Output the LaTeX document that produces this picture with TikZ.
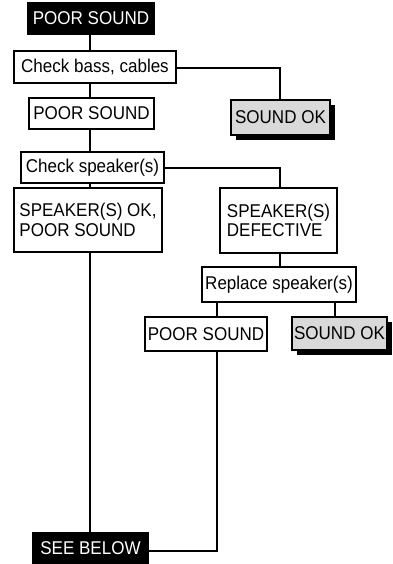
\documentclass[tikz,border=0pt]{standalone}
\usepackage{fontspec}
\setmainfont{Liberation Sans}[FakeStretch=0.92]
\usetikzlibrary{shadows}
\begin{document}
\begin{tikzpicture}[x=1pt,y=1pt,
  every node/.style={font=\fontsize{18.5}{19.5}\selectfont, inner sep=0pt, align=center},
  wbox/.style={draw=black, line width=1.3pt, fill=white},
  bbox/.style={fill=black, text=white},
  gbox/.style={draw=black, line width=1.3pt, fill=gray!30,
     drop shadow={shadow xshift=5pt, shadow yshift=-5pt, fill=black, opacity=1}},
  conn/.style={line width=2.8pt, line cap=rect}]
\useasboundingbox (0,0) rectangle (392,-564);
% nodes
\node[bbox, minimum width=128, minimum height=33] (A) at (91,-18.5) {POOR SOUND};
\node[wbox, minimum width=162, minimum height=32] (B) at (95,-67) {Check bass, cables};
\node[gbox, minimum width=99, minimum height=35] (C) at (280.5,-117.5) {SOUND OK};
\node[wbox, minimum width=125, minimum height=31] (D) at (91.5,-113.5) {POOR SOUND};
\node[wbox, minimum width=143, minimum height=31] (E) at (92.5,-167.5) {Check speaker(s)};
\node[wbox, minimum width=148, minimum height=64, align=left] (F) at (88,-220) {SPEAKER(S) OK,\\POOR SOUND};
\node[wbox, minimum width=117, minimum height=65, align=left] (G) at (278.5,-220.5) {SPEAKER(S)\\DEFECTIVE};
\node[wbox, minimum width=154, minimum height=35] (H) at (279,-284.5) {Replace speaker(s)};
\node[wbox, minimum width=122, minimum height=34] (I) at (206,-334) {POOR SOUND};
\node[gbox, minimum width=95, minimum height=33] (J) at (339.5,-333.5) {SOUND OK};
\node[bbox, minimum width=117, minimum height=32] (K) at (90.5,-548) {SEE BELOW};
% helper coordinates
\coordinate (xl) at (90,0);
\coordinate (xr) at (280,0);
\coordinate (xi) at (217,0);
\coordinate (xj) at (335,0);
\coordinate (yb) at (0,-68);
\coordinate (ye) at (0,-168);
\coordinate (yk) at (0,-551);
% connectors
\draw[conn] (A.south -| xl) -- (B.north -| xl);
\draw[conn] (B.south -| xl) -- (D.north -| xl);
\draw[conn] (D.south -| xl) -- (E.north -| xl);
\draw[conn] (E.south -| xl) -- (F.north -| xl);
\draw[conn] (F.south -| xl) -- (K.north -| xl);
\draw[conn] (B.east |- yb) -| (C.north -| xr);
\draw[conn] (E.east |- ye) -| (G.north -| xr);
\draw[conn] (G.south -| xr) -- (H.north -| xr);
\draw[conn] (H.south -| xi) -- (I.north -| xi);
\draw[conn] (H.south -| xj) -- (J.north -| xj);
\draw[conn] (I.south -| xi) |- (K.east |- yk);
\end{tikzpicture}
\end{document}
